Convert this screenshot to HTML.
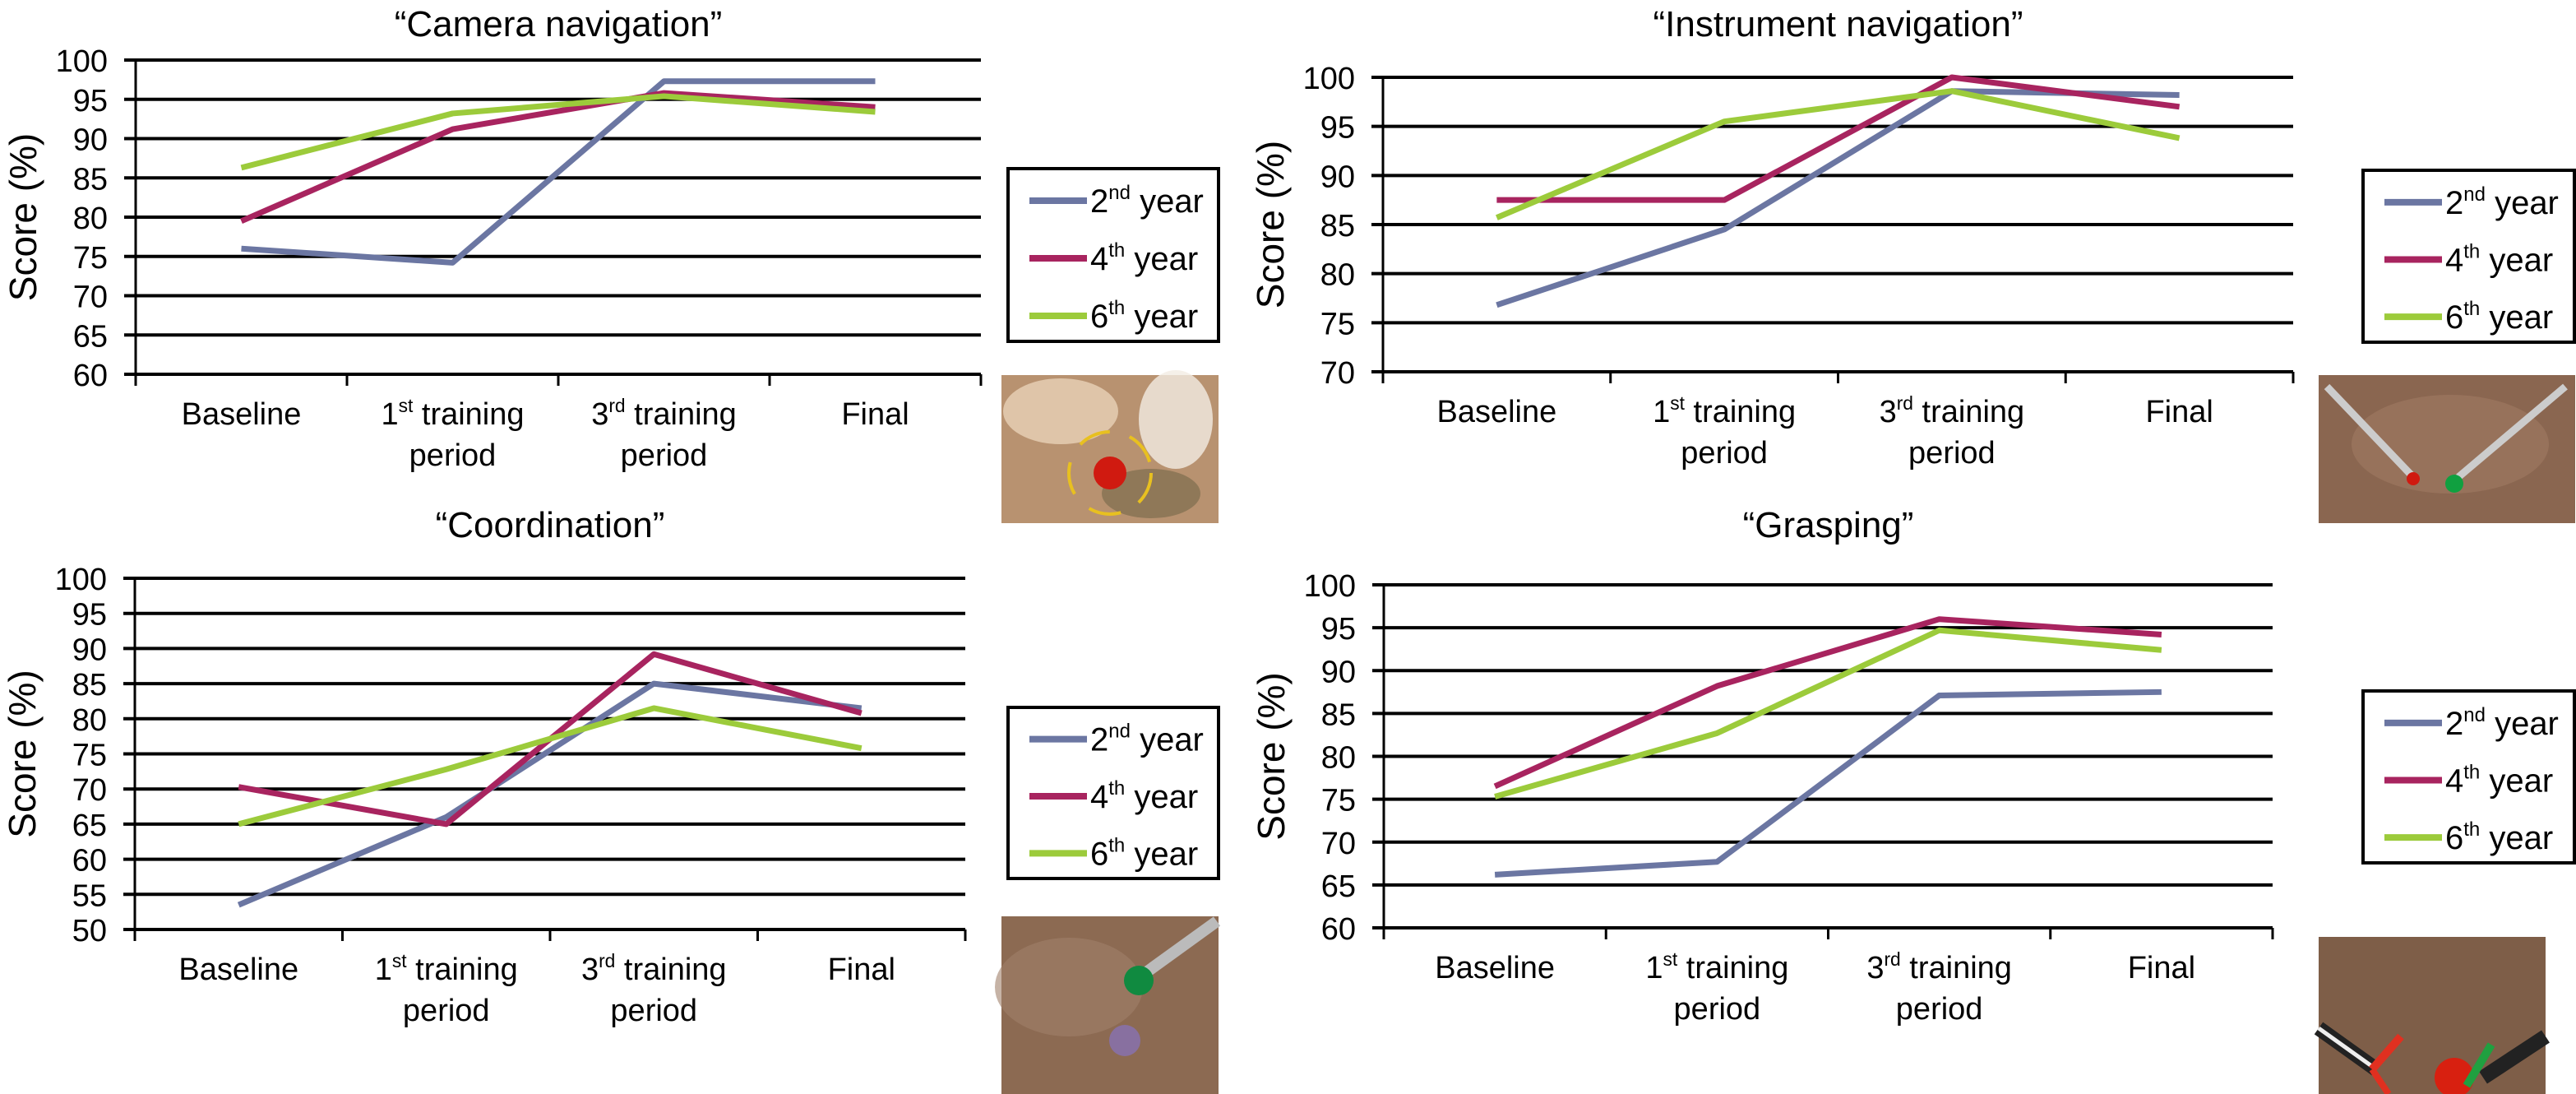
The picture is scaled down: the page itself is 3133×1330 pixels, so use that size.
<!DOCTYPE html>
<html><head><meta charset="utf-8"><style>
html,body{margin:0;padding:0;background:#fff;}
svg{display:block;font-family:"Liberation Sans",sans-serif;}
</style></head><body>
<svg id="fig" width="3133" height="1330" viewBox="0 0 3133 1330" xmlns="http://www.w3.org/2000/svg">
<g>
 <rect x="1218" y="456" width="264" height="180" fill="#b89270"/>
 <ellipse cx="1290" cy="500" rx="70" ry="40" fill="#e8d2b8" opacity="0.8"/>
 <ellipse cx="1430" cy="510" rx="45" ry="60" fill="#f3ece4" opacity="0.8"/>
 <ellipse cx="1400" cy="600" rx="60" ry="30" fill="#7d6e4e" opacity="0.7"/>
 <circle cx="1350" cy="575" r="50" fill="none" stroke="#e8c020" stroke-width="4" stroke-dasharray="40 25"/>
 <circle cx="1350" cy="575" r="20" fill="#d01a10"/>
</g>
<g>
 <rect x="2820" y="456" width="312" height="180" fill="#8a6650"/>
 <ellipse cx="2980" cy="540" rx="120" ry="60" fill="#a07a62" opacity="0.6"/>
 <line x1="2830" y1="470" x2="2935" y2="580" stroke="#ccc" stroke-width="9"/>
 <line x1="3120" y1="470" x2="2990" y2="580" stroke="#ccc" stroke-width="9"/>
 <circle cx="2935" cy="582" r="8" fill="#d01a10"/>
 <circle cx="2985" cy="588" r="11" fill="#10a040"/>
</g>
<g>
 <rect x="1218" y="1114" width="264" height="216" fill="#8c6a52"/>
 <ellipse cx="1300" cy="1200" rx="90" ry="60" fill="#a0806a" opacity="0.6"/>
 <line x1="1480" y1="1120" x2="1390" y2="1185" stroke="#bbb" stroke-width="14"/>
 <circle cx="1385" cy="1192" r="18" fill="#108a40"/>
 <circle cx="1368" cy="1265" r="19" fill="#8870a0"/>
</g>
<g>
 <rect x="2820" y="1139" width="276" height="191" fill="#7e5e48"/>
 <line x1="2820" y1="1250" x2="2890" y2="1300" stroke="#222" stroke-width="18"/>
 <line x1="2820" y1="1250" x2="2890" y2="1300" stroke="#eee" stroke-width="5"/>
 <line x1="3096" y1="1260" x2="3020" y2="1310" stroke="#222" stroke-width="18"/>
 <line x1="2885" y1="1300" x2="2920" y2="1260" stroke="#e03020" stroke-width="10"/>
 <line x1="2885" y1="1300" x2="2905" y2="1330" stroke="#e03020" stroke-width="8"/>
 <circle cx="2985" cy="1310" r="24" fill="#d82010"/>
 <line x1="3000" y1="1320" x2="3030" y2="1270" stroke="#20a040" stroke-width="10"/>
</g>
</svg>
<script>
// ---- data ----
const categories = ["Baseline", "1st|training|period", "3rd|training|period", "Final"];
const seriesNames = ["2nd", "4th", "6th"];
const seriesColors = ["#6b76a2", "#a8245f", "#9ccb3b"];
const cameraTitle = "\u201cCamera navigation\u201d";
const camera2nd = [76, 74.2, 97.3, 97.3];
const camera4th = [79.5, 91.2, 95.8, 94];
const camera6th = [86.3, 93.2, 95.4, 93.4];
const cameraTicks = [60, 65, 70, 75, 80, 85, 90, 95, 100];
const instrumentTitle = "\u201cInstrument navigation\u201d";
const instrument2nd = [76.8, 84.5, 98.6, 98.2];
const instrument4th = [87.5, 87.5, 100, 97];
const instrument6th = [85.7, 95.5, 98.6, 93.8];
const instrumentTicks = [70, 75, 80, 85, 90, 95, 100];
const coordTitle = "\u201cCoordination\u201d";
const coord2nd = [53.5, 66, 85, 81.5];
const coord4th = [70.3, 65, 89.2, 80.8];
const coord6th = [65, 72.8, 81.5, 75.8];
const coordTicks = [50, 55, 60, 65, 70, 75, 80, 85, 90, 95, 100];
const graspTitle = "\u201cGrasping\u201d";
const grasp2nd = [66.2, 67.7, 87.1, 87.5];
const grasp4th = [76.5, 88.2, 96, 94.2];
const grasp6th = [75.3, 82.7, 94.7, 92.4];
const graspTicks = [60, 65, 70, 75, 80, 85, 90, 95, 100];

const NS = "http://www.w3.org/2000/svg";
const svg = document.getElementById("fig");
function mk(tag, attrs, parent) {
  const e = document.createElementNS(NS, tag);
  for (const k in attrs) e.setAttribute(k, attrs[k]);
  (parent || svg).appendChild(e);
  return e;
}
function supText(parent, x, y, num, sup, rest, size, anchor) {
  const t = mk("text", {x: x, y: y, "font-size": size, "text-anchor": anchor || "start", fill: "#000"}, parent);
  t.appendChild(document.createTextNode(num));
  if (sup) {
    const s = mk("tspan", {"font-size": size * 0.6, dy: -size * 0.4}, t);
    s.textContent = sup;
    const r = mk("tspan", {dy: size * 0.4}, t);
    r.textContent = rest;
  }
  return t;
}

function drawChart(name, cfg, title, ticks, s2, s4, s6) {
  const g = mk("g", {});
  
  
  const ymin = ticks[0], ymax = ticks[ticks.length - 1];
  const yScale = v => cfg.bot - (v - ymin) / (ymax - ymin) * (cfg.bot - cfg.top);
  const cw = (cfg.R - cfg.L) / categories.length;
  const xScale = i => cfg.L + cw * (i + 0.5);
  const tt = mk("text", {x: (cfg.L + cfg.R) / 2, y: cfg.titleY, "font-size": 44, "text-anchor": "middle"}, g);
  tt.textContent = title;
  
  
  ticks.forEach(v => {
    const y = yScale(v);
    const gl = mk("line", {x1: cfg.L - 14, x2: cfg.R, y1: y, y2: y, stroke: "#000", "stroke-width": 4}, g);
    
    
    const tl = mk("text", {x: cfg.L - 34, y: y + 14, "font-size": 38, "text-anchor": "end"}, g);
    tl.textContent = v;
    
    
  });
  const ax = mk("line", {x1: cfg.L, x2: cfg.L, y1: cfg.top, y2: cfg.bot + 14, stroke: "#000", "stroke-width": 3}, g);
  
  
  for (let i = 1; i <= categories.length; i++) {
    const x = cfg.L + cw * i;
    mk("line", {x1: x, x2: x, y1: cfg.bot, y2: cfg.bot + 14, stroke: "#000", "stroke-width": 3}, g);
  }
  const yl = mk("text", {x: 0, y: 0, "font-size": 46, "text-anchor": "middle",
    transform: `translate(${cfg.L - 121},${(cfg.top + cfg.bot) / 2}) rotate(-90)`}, g);
  yl.textContent = "Score (%)";
  
  
  categories.forEach((c, i) => {
    const parts = c.split("|");
    const x = xScale(i);
    let t;
    if (parts.length === 1) {
      t = mk("text", {x: x, y: cfg.bot + 61, "font-size": 38, "text-anchor": "middle"}, g);
      t.textContent = c;
    } else {
      t = supText(g, x, cfg.bot + 61, parts[0][0], parts[0].slice(1), " " + parts[1], 38, "middle");
      const t2 = mk("text", {x: x, y: cfg.bot + 111, "font-size": 38, "text-anchor": "middle"}, g);
      t2.textContent = parts[2];
    }
    
    
  });
  [s2, s4, s6].forEach((s, k) => {
    const pts = s.map((v, i) => xScale(i) + "," + yScale(v)).join(" ");
    const pl = mk("polyline", {points: pts, fill: "none", stroke: seriesColors[k], "stroke-width": 7, "stroke-linejoin": "round"}, g);
    
    
  });
  const lg = mk("g", {}, g);
  
  
  mk("rect", {x: cfg.lgX, y: cfg.lgY, width: cfg.lgW, height: cfg.lgH, fill: "#fff", stroke: "#000", "stroke-width": 4}, lg);
  const step = cfg.lgH / 3;
  seriesNames.forEach((n, k) => {
    const cy = cfg.lgY + step * (k + 0.5) + 4;
    const sw = mk("line", {x1: cfg.lgX + 26, x2: cfg.lgX + 96, y1: cy, y2: cy, stroke: seriesColors[k], "stroke-width": 8}, lg);
    
    
    const lt = supText(lg, cfg.lgX + 100, cy + 14, n[0], n.slice(1), " year", 40);
    
    
  });
}

drawChart("camera-navigation", {L:165, R:1193, top:73, bot:455, titleY:44, lgX:1226, lgY:205, lgW:256, lgH:210}, cameraTitle, cameraTicks, camera2nd, camera4th, camera6th);
drawChart("instrument-navigation", {L:1682, R:2789, top:94, bot:452, titleY:44, lgX:2874, lgY:207, lgW:257, lgH:209}, instrumentTitle, instrumentTicks, instrument2nd, instrument4th, instrument6th);
drawChart("coordination", {L:164, R:1174, top:703, bot:1130, titleY:653, lgX:1226, lgY:860, lgW:256, lgH:208}, coordTitle, coordTicks, coord2nd, coord4th, coord6th);
drawChart("grasping", {L:1683, R:2764, top:711, bot:1128, titleY:653, lgX:2874, lgY:840, lgW:257, lgH:209}, graspTitle, graspTicks, grasp2nd, grasp4th, grasp6th);
</script>
</body></html>
